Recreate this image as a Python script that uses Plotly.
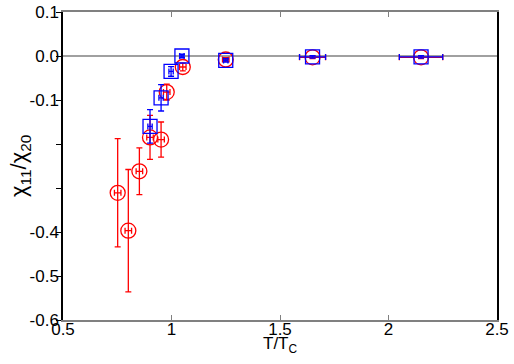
import plotly.graph_objects as go

# Red circles
red_T = [0.752, 0.801, 0.852, 0.901, 0.952, 0.978, 1.052, 1.25, 1.65, 2.15]
red_y = [-0.311, -0.397, -0.262, -0.185, -0.190, -0.082, -0.025, -0.008, -0.003, -0.003]
red_yerr = [0.123, 0.139, 0.053, 0.050, 0.040, 0.018, 0.009, 0.004, 0.003, 0.003]
red_xerr = [0.015, 0.015, 0.015, 0.015, 0.015, 0.015, 0.015, 0.015, 0.06, 0.10]

# Blue squares
blue_T = [0.901, 0.952, 0.998, 1.048, 1.25, 1.65, 2.15]
blue_y = [-0.160, -0.095, -0.035, 0.0, -0.010, -0.002, -0.002]
blue_yerr = [0.038, 0.030, 0.011, 0.004, 0.004, 0.003, 0.003]
blue_xerr = [0.01, 0.01, 0.01, 0.01, 0.01, 0.06, 0.10]

y_tickvals = [0.1, 0.0, -0.1, -0.2, -0.3, -0.4, -0.5, -0.6]
y_ticktext = ["0.1", "0.0", "-0.1", "", "", "-0.4", "-0.5", "-0.6"]
x_tickvals = [0.5, 1, 1.5, 2, 2.5]
x_ticktext = ["0.5", "1", "1.5", "2", "2.5"]

fig = go.Figure()

fig.add_trace(go.Scatter(
    x=[0.5, 2.5], y=[0, 0], mode="lines",
    line=dict(color="#808080", width=1.5), showlegend=False, hoverinfo="skip"))

fig.add_trace(go.Scatter(
    x=red_T, y=red_y, mode="markers",
    marker=dict(symbol="circle-open", size=15, color="#ff0000", line=dict(width=1.3)),
    error_y=dict(type="data", array=red_yerr, color="#ff0000", thickness=1.3, width=3),
    error_x=dict(type="data", array=red_xerr, color="#ff0000", thickness=1.3, width=3),
    showlegend=False))

fig.add_trace(go.Scatter(
    x=blue_T, y=blue_y, mode="markers",
    marker=dict(symbol="square-open", size=14, color="#0000ff", line=dict(width=1.3)),
    error_y=dict(type="data", array=blue_yerr, color="#0000ff", thickness=1.3, width=3),
    error_x=dict(type="data", array=blue_xerr, color="#0000ff", thickness=1.3, width=3),
    showlegend=False))

fig.update_layout(
    width=514, height=364,
    margin=dict(l=63, r=17, t=12, b=44),
    paper_bgcolor="white", plot_bgcolor="white",
    font=dict(family="Liberation Sans, Arial, sans-serif", size=17, color="black"),
    xaxis=dict(
        range=[0.5, 2.5], tickvals=x_tickvals, ticktext=x_ticktext,
        showgrid=False, zeroline=False, automargin=False,
        showline=True, linecolor="#808080", linewidth=1.5, mirror="ticks",
        ticks="inside", ticklen=5, tickcolor="#808080",
        ticklabeloverflow="allow",
    ),
    yaxis=dict(
        range=[-0.6, 0.1], tickvals=y_tickvals, ticktext=y_ticktext,
        showgrid=False, zeroline=False, automargin=False,
        showline=True, linecolor="black", linewidth=1.5, mirror=True,
        ticks="outside", ticklen=5, tickcolor="black",
        ticklabeloverflow="allow",
    ),
    annotations=[
        dict(text="T/T<sub>C</sub>", xref="paper", yref="paper", x=0.5, y=-0.08,
             xanchor="center", yanchor="middle", showarrow=False, font=dict(size=17)),
        dict(text="χ<sub>11</sub>/χ<sub>20</sub>", xref="paper", yref="paper", x=-0.099, y=0.5,
             xanchor="center", yanchor="middle", showarrow=False, textangle=-90,
             font=dict(size=22)),
    ],
)

try:
    fig.update_xaxes(ticklabelstandoff=-7)
except Exception:
    pass
try:
    fig.update_yaxes(ticklabelstandoff=-6)
except Exception:
    pass

fig.write_html("out.html", config={"displayModeBar": False},
               post_script="document.body.style.margin='0';")
